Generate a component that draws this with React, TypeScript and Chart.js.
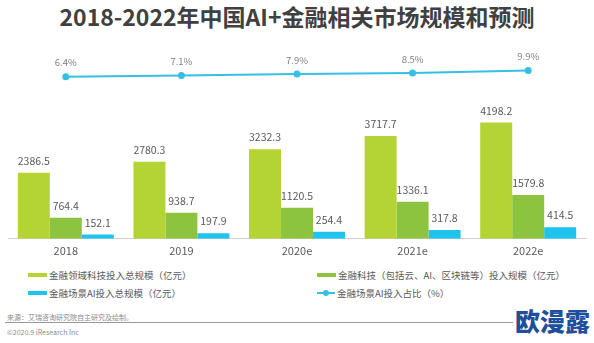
import React, { useEffect, useRef } from "react";
import { Chart, registerables } from "chart.js";

Chart.register(...registerables);

const FONT = "'Noto Sans CJK SC', 'Noto Sans', sans-serif";

const title = "2018-2022年中国AI+金融相关市场规模和预测";
const categories = ["2018", "2019", "2020e", "2021e", "2022e"];
const totalTech = [2386.5, 2780.3, 3232.3, 3717.7, 4198.2];
const finTech = [764.4, 938.7, 1120.5, 1336.1, 1579.8];
const aiInvest = [152.1, 197.9, 254.4, 317.8, 414.5];
const aiShare = [6.4, 7.1, 7.9, 8.5, 9.9];
const seriesNames = [
  "金融领域科技投入总规模（亿元）",
  "金融科技（包括云、AI、区块链等）投入规模（亿元）",
  "金融场景AI投入总规模（亿元）",
  "金融场景AI投入占比（%）",
];
const sourceText = "来源：艾瑞咨询研究院自主研究及绘制。";
const copyrightText = "©2020.9 iResearch Inc";
const siteText = "www.iresearch.com.cn";
const watermark = "欧漫露";

const COLORS = ["#b4d334", "#8cc43f", "#1ec4ee", "#35bfe3"];

const valueLabels = {
  id: "valueLabels",
  afterDatasetsDraw(chart: any) {
    const ctx = chart.ctx;
    chart.data.datasets.forEach((ds: any, i: number) => {
      const meta = chart.getDatasetMeta(i);
      meta.data.forEach((el: any, j: number) => {
        const v = ds.data[j] as number;
        ctx.save();
        ctx.textAlign = "center";
        ctx.textBaseline = "middle";
        if (ds.type === "line") {
          ctx.font = `9.5px ${FONT}`;
          ctx.fillStyle = "#7f7f7f";
          ctx.fillText(v.toFixed(1) + "%", el.x, el.y - 14);
        } else {
          ctx.font = `10.5px ${FONT}`;
          ctx.fillStyle = "#595959";
          ctx.fillText(v.toFixed(1), el.x, el.y - 12);
        }
        ctx.restore();
      });
    });
  },
};

function ChartCanvas() {
  const ref = useRef<HTMLCanvasElement | null>(null);
  useEffect(() => {
    if (!ref.current) return;
    const barCommon = {
      type: "bar" as const,
      categoryPercentage: 0.83,
      barPercentage: 1.0,
      borderWidth: 0,
      yAxisID: "y",
    };
    const chart = new Chart(ref.current, {
      type: "bar",
      data: {
        labels: categories,
        datasets: [
          {
            type: "line",
            label: seriesNames[3],
            data: aiShare,
            yAxisID: "y2",
            borderColor: COLORS[3],
            backgroundColor: COLORS[3],
            pointBackgroundColor: COLORS[3],
            pointBorderColor: COLORS[3],
            pointRadius: 2.5,
            borderWidth: 2,
            order: 0,
          } as any,
          { ...barCommon, label: seriesNames[0], data: totalTech, backgroundColor: COLORS[0], order: 1 },
          { ...barCommon, label: seriesNames[1], data: finTech, backgroundColor: COLORS[1], order: 1 },
          { ...barCommon, label: seriesNames[2], data: aiInvest, backgroundColor: COLORS[2], order: 1 },
        ],
      },
      options: {
        responsive: false,
        animation: false,
        layout: { padding: { left: 8, right: 8, top: 0, bottom: 0 } },
        plugins: {
          legend: { display: false },
          tooltip: { enabled: false },
        },
        scales: {
          x: {
            grid: { display: false, drawTicks: false },
            border: { display: true, color: "#d0d0d0", width: 1 },
            ticks: { color: "#595959", font: { size: 11, family: FONT }, padding: 5 },
          },
          y: { display: false, min: 0, max: 7400 },
          y2: { display: false, min: -84.9, max: 30.5 },
        },
      },
      plugins: [valueLabels],
    } as any);
    return () => chart.destroy();
  }, []);
  return (
    <canvas
      ref={ref}
      width={594}
      height={234}
      style={{ position: "absolute", left: 0, top: 28, width: 594, height: 234 }}
    />
  );
}

function LegendItem({ x, y, idx }: { x: number; y: number; idx: number }) {
  const isLine = idx === 3;
  return (
    <div
      style={{
        position: "absolute",
        left: x,
        top: y - 7,
        height: 14,
        display: "flex",
        alignItems: "center",
        whiteSpace: "nowrap",
      }}
    >
      {isLine ? (
        <div style={{ position: "relative", width: 18, height: 8, marginRight: 2 }}>
          <div style={{ position: "absolute", left: 0, top: 3, width: 18, height: 2, background: COLORS[3] }} />
          <div
            style={{
              position: "absolute",
              left: 6,
              top: 1,
              width: 6,
              height: 6,
              borderRadius: 3,
              background: COLORS[3],
            }}
          />
        </div>
      ) : (
        <div style={{ width: 19, height: 4, background: COLORS[idx], marginRight: 2 }} />
      )}
      <span style={{ fontSize: 9.5, color: "#595959", fontFamily: FONT, lineHeight: "14px" }}>
        {seriesNames[idx]}
      </span>
    </div>
  );
}

export default function App() {
  return (
    <div
      style={{
        position: "absolute",
        left: 0,
        top: 0,
        width: 594,
        height: 343,
        background: "#ffffff",
        overflow: "hidden",
        fontFamily: FONT,
      }}
    >
      <div
        style={{
          position: "absolute",
          left: 0,
          top: 3,
          width: 594,
          textAlign: "center",
          fontSize: 23,
          lineHeight: "26px",
          fontWeight: 700,
          color: "#404040",
        }}
      >
        {title}
      </div>
      <ChartCanvas />
      <LegendItem x={28} y={275} idx={0} />
      <LegendItem x={317} y={275} idx={1} />
      <LegendItem x={28} y={293} idx={2} />
      <LegendItem x={317} y={293} idx={3} />
      <div
        style={{
          position: "absolute",
          left: 7,
          top: 312,
          fontSize: 7,
          lineHeight: "10px",
          color: "#8c8c8c",
          whiteSpace: "nowrap",
        }}
      >
        {sourceText}
      </div>
      <div style={{ position: "absolute", left: 5, top: 322, width: 584, height: 1, background: "#9a9a9a" }} />
      <div
        style={{
          position: "absolute",
          left: 7,
          top: 327,
          fontSize: 7,
          lineHeight: "10px",
          color: "#8c8c8c",
          whiteSpace: "nowrap",
        }}
      >
        {copyrightText}
      </div>
      <div
        style={{
          position: "absolute",
          right: 7,
          top: 327,
          fontSize: 7,
          lineHeight: "10px",
          color: "#8c8c8c",
          whiteSpace: "nowrap",
        }}
      >
        {siteText}
      </div>
      <div
        style={{
          position: "absolute",
          left: 513,
          top: 303,
          fontSize: 25,
          lineHeight: "34px",
          fontWeight: 900,
          color: "#1d4f9c",
          background: "#ffffff",
          padding: "0 2px",
          whiteSpace: "nowrap",
        }}
      >
        {watermark}
      </div>
    </div>
  );
}
